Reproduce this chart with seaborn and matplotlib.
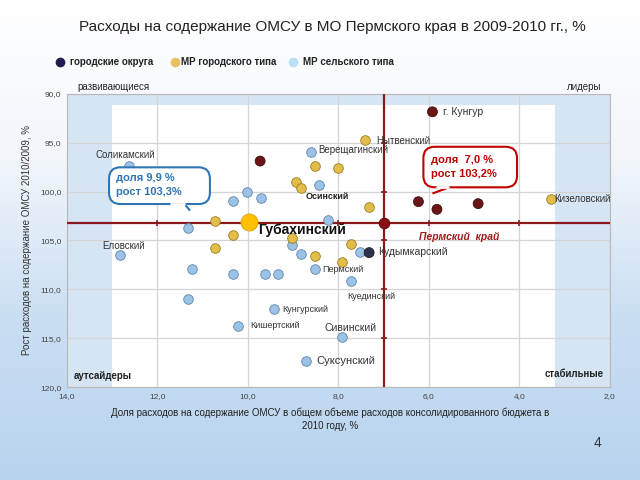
import numpy as np
import pandas as pd
import seaborn as sns
import matplotlib.pyplot as plt
from matplotlib.colors import LinearSegmentedColormap
from matplotlib.patches import FancyBboxPatch, Rectangle, Polygon
from matplotlib.lines import Line2D

# городские округа
go_x = [5.92, 9.73, 6.23, 5.82, 4.91, 7.32]
go_y = [91.86, 96.89, 101.04, 101.82, 101.24, 106.24]
go_c = ['#6b1515', '#6b1515', '#6b1515', '#6b1515', '#6b1515', '#2b3550']

# МР городского типа
gt_x = [7.41, 8.52, 8.01, 8.93, 8.82, 7.33, 10.73, 10.33, 10.73, 9.02, 7.72, 8.52, 7.92, 3.29]
gt_y = [94.74, 97.37, 97.57, 99.06, 99.67, 101.61, 103.01, 104.47, 105.77, 104.78, 105.33, 106.58, 107.22, 100.8]

# МР сельского типа
st_x = [12.63, 12.83, 8.61, 8.42, 10.02, 9.72, 10.33, 8.23, 11.33, 9.02, 8.83, 7.52,
        11.23, 10.33, 9.63, 9.33, 8.52, 7.72, 11.33, 9.42, 10.22, 7.92, 8.72]
st_y = [97.4, 106.45, 95.97, 99.34, 100.02, 100.66, 100.94, 102.91, 103.76, 105.46, 106.41, 106.14,
        107.91, 108.39, 108.39, 108.39, 107.91, 109.13, 111.0, 112.02, 113.69, 114.88, 117.27]

# выделенные точки
gub_x, gub_y = 9.97, 103.14      # Губахинский
perm_x, perm_y = 7.0, 103.2      # Пермский край

xticks = [14, 12, 10, 8, 6, 4, 2]
yticks = [90, 95, 100, 105, 110, 115, 120]

sns.set_style('white')
plt.rcParams['font.family'] = ['Liberation Sans', 'DejaVu Sans']

fig = plt.figure(figsize=(6.4, 4.8), dpi=100)

# фон слайда
bg = fig.add_axes([0, 0, 1, 1], zorder=-5)
cmap = LinearSegmentedColormap.from_list('bg', ['#b9d4ef', '#c9def3', '#f2f6fb', '#ffffff'])
grad = np.linspace(0, 1, 256).reshape(-1, 1)
bg.imshow(grad, aspect='auto', cmap=cmap, extent=[0, 1, 0, 1], origin='lower')
bg.axis('off')

ax = fig.add_axes([0.1047, 0.193, 0.848, 0.612])
ax.set_facecolor('#d6e5f4')
ax.add_patch(Rectangle((3.2, 91.2), 9.8, 28.8, fc='white', ec='none', zorder=0.2))

ax.set_xlim(14, 2)
ax.set_ylim(120, 90)
ax.set_xticks(xticks)
ax.set_yticks(yticks)
ax.set_xticklabels([f'{v:.1f}'.replace('.', ',') for v in xticks], fontsize=6, color='#444444')
ax.set_yticklabels([f'{v:.1f}'.replace('.', ',') for v in yticks], fontsize=6, color='#444444')
ax.tick_params(length=0, pad=4)
ax.set_axisbelow(True)
ax.grid(True, color='#d4d4d4', lw=0.9)
for s in ax.spines.values():
    s.set_color('#b8b8b8')
    s.set_linewidth(0.8)

# перекрестие Пермского края
red = '#8b1a1a'
ax.axvline(perm_x, color=red, lw=1.6, zorder=3)
ax.axhline(perm_y, color=red, lw=1.6, zorder=3)
ax.plot([12, 10, 8, 6, 4], [perm_y] * 5, ls='none', marker='|', ms=5, mew=1.2, color=red, zorder=3)
ax.plot([perm_x] * 5, [95, 100, 105, 110, 115], ls='none', marker='_', ms=5, mew=1.2, color=red, zorder=3)

df_go = pd.DataFrame({'x': go_x, 'y': go_y, 'c': go_c})
df_gt = pd.DataFrame({'x': gt_x, 'y': gt_y})
df_st = pd.DataFrame({'x': st_x, 'y': st_y})

sns.scatterplot(data=df_st, x='x', y='y', color='#9cc3e6', edgecolor='#5f87ad', linewidth=0.6,
                s=48, ax=ax, zorder=5, legend=False)
sns.scatterplot(data=df_gt, x='x', y='y', color='#e3bd4a', edgecolor='#9c7d1e', linewidth=0.6,
                s=48, ax=ax, zorder=6, legend=False)
sns.scatterplot(data=df_go, x='x', y='y', hue='c', palette={c: c for c in set(go_c)},
                edgecolor='#2a0a0a', linewidth=0.5, s=52, ax=ax, zorder=7, legend=False)
ax.scatter([gub_x], [gub_y], s=150, color='#ffc000', edgecolor='#e0a000', lw=0.6, zorder=8)
ax.scatter([perm_x], [perm_y], s=60, color='#8b0f0f', edgecolor='#4a0505', lw=0.5, zorder=8)
ax.set_xlabel('')
ax.set_ylabel('')

# подписи
txt = dict(fontsize=7, color='#333333', zorder=9, va='center')
ax.text(12.72, 96.28, 'Соликамский', ha='center', **txt)
ax.text(13.23, 105.56, 'Еловский', ha='left', **txt)
ax.text(8.44, 95.77, 'Верещагинский', ha='left', **txt)
ax.text(7.17, 94.85, 'Нытвенский', ha='left', **txt)
ax.text(5.68, 91.92, 'г. Кунгур', ha='left', fontsize=7.5, color='#333333', va='center', zorder=9)
ax.text(8.72, 100.55, 'Осинский', ha='left', fontsize=6.5, fontweight='bold', color='#222222', va='center', zorder=9)
ax.text(3.23, 100.8, 'Кизеловский', ha='left', **txt)
ax.text(7.13, 106.14, 'Кудымкарский', ha='left', fontsize=7.5, color='#333333', va='center', zorder=9)
ax.text(8.36, 107.94, 'Пермский', ha='left', fontsize=6.5, color='#333333', va='center', zorder=9)
ax.text(7.81, 110.73, 'Куединский', ha='left', fontsize=6.5, color='#333333', va='center', zorder=9)
ax.text(9.24, 112.09, 'Кунгурский', ha='left', fontsize=6.5, color='#333333', va='center', zorder=9)
ax.text(9.95, 113.72, 'Кишертский', ha='left', fontsize=6.5, color='#333333', va='center', zorder=9)
ax.text(8.30, 113.96, 'Сивинский', ha='left', fontsize=7.5, color='#333333', va='center', zorder=9)
ax.text(8.48, 117.27, 'Суксунский', ha='left', fontsize=8, color='#333333', va='center', zorder=9)
ax.text(9.77, 103.95, 'Губахинский', ha='left', fontsize=10, fontweight='bold', color='#111111',
        va='center', zorder=9)
ax.text(5.33, 104.6, 'Пермский  край', ha='center', fontsize=7.5, fontweight='bold', style='italic',
        color='#a01c1c', va='center', zorder=9)

# квадранты
q = dict(transform=ax.transAxes, fontsize=7, color='#222222', zorder=9)
ax.text(0.02, 1.022, 'развивающиеся', ha='left', va='center', clip_on=False, **q)
ax.text(0.985, 1.022, 'лидеры', ha='right', va='center', clip_on=False, **q)
ax.text(0.012, 0.04, 'аутсайдеры', ha='left', va='center', fontweight='bold', **q)
ax.text(0.989, 0.046, 'стабильные', ha='right', va='center', fontweight='bold', **q)

# выноски
blue = '#2e75b6'
asp = (0.612 * 480 / 30) / (0.848 * 640 / 12)
box1 = FancyBboxPatch((10.84, 97.53), 2.23, 3.75, boxstyle='round,pad=0,rounding_size=0.25',
                      mutation_aspect=1 / asp, fc='white', ec=blue, lw=1.5, zorder=10)
ax.add_patch(box1)
ax.add_patch(Polygon([[11.72, 101.28], [11.40, 101.28], [11.28, 101.95]], closed=False,
                     fc='white', ec=blue, lw=1.5, zorder=11))
ax.plot([11.70, 11.42], [101.28, 101.28], color='white', lw=2, zorder=12)
ax.text(12.92, 98.65, 'доля 9,9 %', fontsize=8, fontweight='bold', color=blue, va='center', zorder=12)
ax.text(12.92, 100.1, 'рост 103,3%', fontsize=8, fontweight='bold', color=blue, va='center', zorder=12)

dred = '#c00000'
box2 = FancyBboxPatch((4.05, 95.43), 2.07, 4.14, boxstyle='round,pad=0,rounding_size=0.25',
                      mutation_aspect=1 / asp, fc='white', ec=dred, lw=1.5, zorder=10)
ax.add_patch(box2)
ax.add_patch(Polygon([[5.84, 99.57], [5.55, 99.57], [5.92, 100.2]], closed=False,
                     fc='white', ec=dred, lw=1.5, zorder=11))
ax.plot([5.82, 5.57], [99.57, 99.57], color='white', lw=2, zorder=12)
ax.text(5.95, 96.8, 'доля  7,0 %', fontsize=8, fontweight='bold', color=dred, va='center', zorder=12)
ax.text(5.95, 98.25, 'рост 103,2%', fontsize=8, fontweight='bold', color=dred, va='center', zorder=12)

# заголовок, легенда, подписи осей
fig.text(0.519, 0.944, 'Расходы на содержание ОМСУ в МО Пермского края в 2009-2010 гг., %',
         ha='center', va='center', fontsize=11, color='#222222')

leg = [(0.094, '#1f1f4f', 'городские округа', 0.109),
       (0.273, '#e8c060', 'МР городского типа', 0.283),
       (0.458, '#b9e0f5', 'МР сельского типа', 0.473)]
for mx, mc, lab, tx in leg:
    fig.add_artist(Line2D([mx], [0.871], marker='o', ms=7, color=mc, mec='none', ls='none',
                          transform=fig.transFigure))
    fig.text(tx, 0.871, lab, ha='left', va='center', fontsize=7, fontweight='bold', color='#222222')

fig.text(0.042, 0.5, 'Рост расходов на содержание ОМСУ 2010/2009, %', rotation=90,
         ha='center', va='center', fontsize=7, color='#333333')
fig.text(0.516, 0.127, 'Доля расходов на содержание ОМСУ в общем объеме расходов консолидированного бюджета в\n2010 году, %',
         ha='center', va='center', fontsize=7, color='#222222', linespacing=1.35)
fig.text(0.933, 0.077, '4', ha='center', va='center', fontsize=10, color='#333333')

fig.savefig('out.png', dpi=100)
